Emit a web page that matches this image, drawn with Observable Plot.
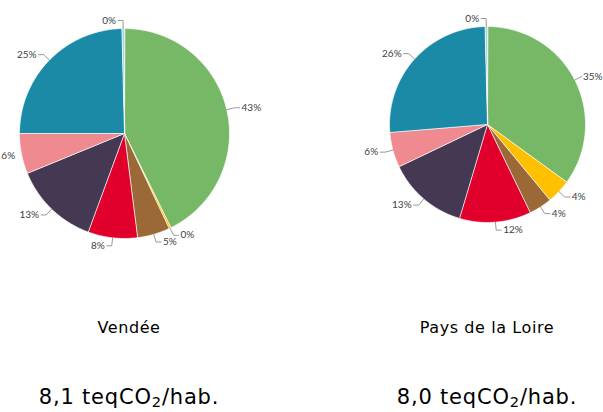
<!DOCTYPE html>
<html><head><meta charset="utf-8">
<script src="https://cdn.jsdelivr.net/npm/d3@7"></script>
<script src="https://cdn.jsdelivr.net/npm/@observablehq/plot@0.6"></script>
<style>
body{margin:0;background:#fff;}
#wrap{position:relative;width:603px;height:412px;overflow:hidden;background:#fff;}
#wrap svg{position:absolute;left:0;top:0;}
.t{position:absolute;font-family:"DejaVu Sans",sans-serif;color:#000;transform:translateX(-50%);white-space:nowrap;line-height:1;}
.t sub{font-size:0.7em;vertical-align:-0.22em;line-height:0;}
</style></head><body><div id="wrap"></div>
<script>
// ---- data ----
const categories = ["Agriculture", "Déchets", "Industrie", "Industrie de l'énergie", "Résidentiel", "Tertiaire", "Transport routier", "Autres transports"];
const colors = ["#77b866", "#ffc000", "#9b6937", "#e1002c", "#443853", "#ef8a90", "#1a8aa6", "#a8d0e6"];
const regions = ["Vendée", "Pays de la Loire"];
const vendee = [42.7, 0.3, 5.0, 7.6, 13.2, 6.2, 24.6, 0.4];
const paysDeLaLoire = [35.0, 4.0, 3.8, 11.8, 13.3, 5.8, 25.9, 0.4];
const perCapita = ["8,1", "8,0"];
const unitMain = "teqCO", unitSub = "2", unitEnd = "/hab.";

// ---- layout ----
const W = 603, H = 300;
const pies = [{cx: 124, cy: 133, r: 105, values: vendee}, {cx: 487, cy: 124, r: 98, values: paysDeLaLoire}];
const textW = s => (s.length - 1) * 5.8 + 8.4;

const slicePts = [], leaderPts = [], labelsR = [], labelsL = [];
pies.forEach((p, pi) => {
  const arcs = d3.pie().sort(null).value(d => d)(p.values);
  arcs.forEach((a, i) => {
    const key = pi + "-" + i, cat = categories[i];
    slicePts.push({key, cat, x: p.cx, y: p.cy});
    const n = Math.max(2, Math.ceil((a.endAngle - a.startAngle) / 0.01));
    for (let k = 0; k <= n; k++) {
      const t = a.startAngle + (a.endAngle - a.startAngle) * k / n;
      slicePts.push({key, cat, x: p.cx + p.r * Math.sin(t), y: p.cy - p.r * Math.cos(t)});
    }
    const m = (a.startAngle + a.endAngle) / 2;
    const s = Math.sin(m) >= 0 ? 1 : -1;
    const ax = p.cx + p.r * Math.sin(m), ay = p.cy - p.r * Math.cos(m);
    const bx = p.cx + (p.r + 8) * Math.sin(m), by = p.cy - (p.r + 8) * Math.cos(m);
    let cx = bx + 5 * s;
    const text = Math.round(a.data) + "%";
    const w = textW(text);
    let x = cx + 2 * s, clamped = false;
    if (s > 0 && x + w > W - 0.5) { x = W - 0.5 - w; clamped = true; }
    if (s < 0 && x - w < 0.5) { x = w + 0.5; clamped = true; }
    if (!clamped) {
      leaderPts.push({key, x: ax, y: ay}, {key, x: bx, y: by}, {key, x: cx, y: by});
    } else if ((s > 0 && x >= bx) || (s < 0 && x <= bx)) {
      leaderPts.push({key, x: ax, y: ay}, {key, x: bx, y: by});
    }
    (s > 0 ? labelsR : labelsL).push({x, y: by, text});
  });
});

const chart = Plot.plot({
  width: W, height: H, margin: 0,
  x: {domain: [0, W], range: [0, W], axis: null},
  y: {domain: [0, H], range: [0, H], axis: null},
  color: {domain: categories, range: colors},
  style: {background: "transparent"},
  marks: [
    Plot.line(slicePts, {x: "x", y: "y", z: "key", fill: "cat", stroke: "white", strokeWidth: 0.7, curve: "linear-closed"}),
    Plot.line(leaderPts, {x: "x", y: "y", z: "key", stroke: "#7f7f7f", strokeWidth: 0.8}),
    Plot.text(labelsR, {x: "x", y: "y", text: "text", textAnchor: "start", fontSize: 10, fill: "#404040", fontFamily: "Lato"}),
    Plot.text(labelsL, {x: "x", y: "y", text: "text", textAnchor: "end", fontSize: 10, fill: "#404040", fontFamily: "Lato"})
  ]
});
const wrap = document.getElementById("wrap");
wrap.appendChild(chart);

const titleX = [129, 487];
regions.forEach((r, i) => {
  const d = document.createElement("div");
  d.className = "t"; d.style.left = titleX[i] + "px"; d.style.top = "320px";
  d.style.fontSize = "16px"; d.style.letterSpacing = "0.6px";
  d.textContent = r; wrap.appendChild(d);
  const v = document.createElement("div");
  v.className = "t"; v.style.left = titleX[i] + "px"; v.style.top = "387px";
  v.style.fontSize = "21px"; v.style.letterSpacing = "0.8px";
  v.innerHTML = perCapita[i] + " " + unitMain + "<sub>" + unitSub + "</sub>" + unitEnd;
  wrap.appendChild(v);
});
</script></body></html>
